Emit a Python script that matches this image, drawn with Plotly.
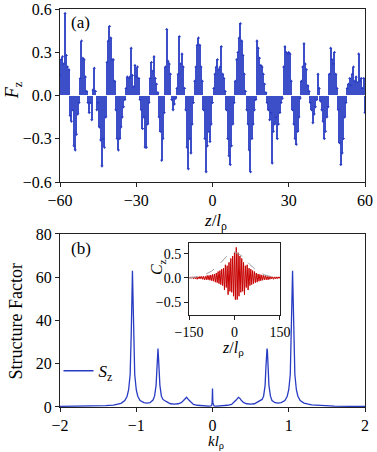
import numpy as np
import plotly.graph_objs as go

# panel (a): local magnetisation F_z, sampled every 0.5 l_rho from -60 to 60
fz_vals = [
    0.14, 0.25, 0.27, 0.22, 0.57, 0.28, 0.20, 0.18,
    -0.14, -0.18, -0.10, -0.35, -0.38, -0.27, -0.13, -0.05,
    0.12, 0.38, 0.26, 0.25, 0.13, 0.03,
    -0.05, -0.12, -0.05, -0.17,
    0.04, 0.19, 0.03,
    -0.10, -0.05, -0.22, -0.31, -0.49, -0.30, -0.36, -0.15,
    0.23, 0.38, 0.48, 0.40, 0.25, 0.25, 0.10,
    -0.10, -0.30, -0.38, -0.30, -0.22, -0.15, -0.08, -0.03,
    0.05, 0.13, 0.12, 0.13, 0.33, 0.14, 0.06, 0.21, 0.13, 0.20, 0.12,
    -0.03, -0.10, -0.23, -0.15, -0.36, -0.36, -0.20, -0.05,
    0.12, 0.23, 0.17, 0.27, 0.12, 0.08, 0.02,
    -0.15, -0.25, -0.45, -0.30, -0.12,
    0.20, 0.46, 0.24, 0.22, 0.15,
    -0.03, -0.10, -0.06, -0.02,
    0.05, 0.15, 0.41, 0.22, 0.29, 0.20, 0.05,
    -0.10, -0.36, -0.51, -0.30, -0.40, -0.20, -0.05,
    0.10, 0.20, 0.35, 0.40, 0.35, 0.20, 0.10,
    -0.10, -0.30, -0.53, -0.35, -0.25, -0.32, -0.20, -0.05,
    0.05, 0.15, 0.20, 0.25, 0.18, 0.20, 0.34, 0.15, 0.12, 0.03,
    -0.10, -0.30, -0.42, -0.48, -0.35, -0.20, -0.05,
    0.10, 0.25, 0.30, 0.40, 0.50, 0.38, 0.28, 0.15, 0.03,
    -0.10, -0.20, -0.38, -0.53, -0.30, -0.20, -0.10, -0.03,
    0.38, 0.33, 0.26, 0.21, 0.20, 0.15, 0.08, 0.02,
    -0.05, -0.10, -0.17, -0.12, -0.47, -0.25, -0.20, -0.15, -0.30, -0.20, -0.12, -0.05, -0.02,
    0.20, 0.34, 0.30, 0.29, 0.30, 0.29, 0.10,
    -0.10, -0.20, -0.30, -0.34, -0.25, -0.15, -0.02,
    0.10, 0.20, 0.36, 0.22, 0.18, 0.07, 0.03,
    -0.05, -0.10, -0.19, -0.13, -0.08, -0.03,
    0.15, 0.05,
    -0.04, -0.10, -0.18, -0.30, -0.25, -0.15, -0.08,
    0.15, 0.33, 0.25, 0.22, 0.30, 0.15, 0.05,
    -0.10, -0.33, -0.48, -0.40, -0.30, -0.15, -0.05,
    0.05, 0.08, 0.12, 0.07, 0.15, 0.20, 0.10, 0.13, 0.09, 0.29, 0.10, 0.12, 0.05, 0.12, -0.12,
]
fz_z = np.arange(len(fz_vals)) * 0.5 - 60

# panel (b): structure factor S_z(k)
k_vals = [
    -2.0, -1.8, -1.6, -1.5, -1.4, -1.3, -1.2, -1.15, -1.12, -1.1, -1.08, -1.065,
    -1.055, -1.05, -1.045, -1.035, -1.02, -1.0, -0.98, -0.95, -0.9, -0.86, -0.82,
    -0.78, -0.76, -0.74, -0.73, -0.72, -0.715, -0.71, -0.7, -0.69, -0.67, -0.65,
    -0.63, -0.61, -0.58, -0.55, -0.5, -0.45, -0.41, -0.38, -0.36, -0.34, -0.31,
    -0.28, -0.25, -0.2, -0.15, -0.1, -0.05, -0.02, -0.01, -0.005, 0.0,
    0.005, 0.01, 0.02, 0.05, 0.1, 0.15, 0.2, 0.25, 0.28, 0.31, 0.34, 0.36, 0.38,
    0.41, 0.45, 0.5, 0.55, 0.58, 0.61, 0.63, 0.65, 0.67, 0.69, 0.7, 0.71, 0.715,
    0.72, 0.73, 0.74, 0.76, 0.78, 0.82, 0.86, 0.9, 0.95, 0.98, 1.0, 1.02, 1.035,
    1.045, 1.05, 1.055, 1.065, 1.08, 1.1, 1.12, 1.15, 1.2, 1.3, 1.4, 1.5, 1.6,
    1.8, 2.0,
]
s_vals = [
    0.3, 0.3, 0.4, 0.5, 0.6, 0.9, 1.7, 3.0, 5.0, 8.0, 15.0, 35.0,
    55.0, 63.0, 55.0, 35.0, 15.0, 8.0, 5.0, 3.0, 2.0, 1.8, 2.0,
    3.2, 5.0, 10.0, 18.0, 26.0, 27.0, 24.0, 18.0, 10.0, 5.0, 3.5,
    3.0, 2.5, 2.0, 1.5, 1.3, 1.5, 2.0, 3.0, 4.0, 4.5, 3.2,
    2.0, 1.2, 0.8, 0.6, 0.5, 0.4, 0.5, 0.8, 2.0, 8.6,
    2.0, 0.8, 0.5, 0.4, 0.5, 0.6, 0.8, 1.2, 2.0, 3.2, 4.5, 4.0, 3.0,
    2.0, 1.5, 1.3, 1.5, 2.0, 2.6, 3.0, 3.5, 5.0, 10.0, 18.0, 24.0, 27.0,
    26.0, 18.0, 10.0, 5.0, 3.0, 2.0, 1.8, 2.0, 3.0, 5.0, 8.0, 15.0, 35.0,
    55.0, 63.0, 55.0, 35.0, 15.0, 8.0, 5.0, 3.0, 1.8, 1.0, 0.7, 0.5, 0.4,
    0.3, 0.3,
]

# inset: correlation C_z, every 3 l_rho from -150 to 150
cz_vals = [
    0.01, -0.01, 0.02, -0.01, 0.02, -0.02, 0.02, -0.02, 0.02, -0.03, 0.02,
    -0.02, 0.03, -0.02, 0.03, -0.03, 0.03, -0.04, 0.03, -0.04, 0.05, -0.04,
    0.05, -0.05, 0.06, -0.06, 0.07, -0.07, 0.08, -0.09, 0.10, -0.10, 0.13,
    -0.12, 0.15, -0.14, 0.18, -0.16, 0.20, -0.25, 0.27, -0.20, 0.25, -0.35,
    0.32, -0.28, 0.40, -0.30, 0.45, -0.38, 0.52, -0.45,
    0.63,
    -0.45, 0.52, -0.38, 0.45, -0.30, 0.40, -0.28, 0.32, -0.35, 0.25, -0.20,
    0.27, -0.25, 0.20, -0.16, 0.18, -0.14, 0.15, -0.12, 0.13, -0.10, 0.10,
    -0.09, 0.08, -0.07, 0.07, -0.06, 0.06, -0.05, 0.05, -0.04, 0.05, -0.04,
    0.03, -0.04, 0.03, -0.03, 0.03, -0.02, 0.02, -0.03, 0.02, -0.02, 0.02,
    -0.02, 0.02, -0.01, 0.02, -0.01, 0.01,
]
cz_z = np.arange(len(cz_vals)) * 3 - 150

# dashed envelope of the inset
env_z = [-150, -125, -100, -75, -50, -25, 0, 25, 50, 75, 100, 125, 150]
env_vals = [0.0, 0.02, 0.06, 0.14, 0.28, 0.45, 0.54, 0.45, 0.28, 0.14, 0.06, 0.02, 0.0]

BLUE = 'rgb(40,60,195)'
RED = 'rgb(200,0,0)'
FONT = 'Liberation Serif, Times New Roman, serif'

fig = go.Figure()

# stems of F_z drawn as thin bars, arrow heads as markers
fig.add_trace(go.Bar(x=fz_z, y=fz_vals, width=0.5,
                     marker=dict(color=BLUE, line=dict(width=0)),
                     opacity=0.9, xaxis='x', yaxis='y', showlegend=False))
fig.add_trace(go.Scatter(x=fz_z, y=fz_vals, mode='markers',
                         marker=dict(color=BLUE, size=3,
                                     symbol=['triangle-up' if v >= 0 else 'triangle-down'
                                             for v in fz_vals]),
                         xaxis='x', yaxis='y', showlegend=False))

# structure factor
fig.add_trace(go.Scatter(x=k_vals, y=s_vals, mode='lines',
                         line=dict(color=BLUE, width=1.3),
                         name='<i>S</i><sub>z</sub>',
                         xaxis='x2', yaxis='y2'))

# inset
fig.add_trace(go.Scatter(x=cz_z, y=cz_vals, mode='lines',
                         line=dict(color=RED, width=1),
                         xaxis='x3', yaxis='y3', showlegend=False))
fig.add_trace(go.Scatter(x=env_z, y=env_vals, mode='lines',
                         line=dict(color='rgb(160,160,160)', width=1, dash='dash'),
                         xaxis='x3', yaxis='y3', showlegend=False))

axis_common = dict(showline=True, linecolor='#222', linewidth=1, mirror=True,
                   ticks='outside', ticklen=4, tickcolor='#222',
                   showgrid=False, zeroline=False, automargin=False,
                   tickfont=dict(family=FONT, size=16, color='black'))
inset_ticks = dict(family=FONT, size=14, color='black')


def label(text, x, y, size=17, angle=0):
    # axis titles placed by hand so they sit where the reference has them
    return dict(text=text, x=x, y=y, xref='paper', yref='paper',
                xanchor='center', yanchor='middle', showarrow=False,
                textangle=angle, font=dict(family=FONT, size=size))


fig.update_layout(
    width=377, height=452,
    margin=dict(l=60, r=12, t=9, b=45),
    plot_bgcolor='white', paper_bgcolor='white',
    bargap=0,
    font=dict(family=FONT, color='black'),
    xaxis=dict(axis_common, domain=[0, 1], range=[-60, 60],
               tickvals=[-60, -30, 0, 30, 60], anchor='y'),
    yaxis=dict(axis_common, domain=[0.5653, 1.0], range=[-0.6, 0.6],
               tickvals=[-0.6, -0.3, 0, 0.3, 0.6], tickformat='.1f', anchor='x'),
    xaxis2=dict(axis_common, domain=[0, 1], range=[-2, 2],
                tickvals=[-2, -1, 0, 1, 2], anchor='y2'),
    yaxis2=dict(axis_common, domain=[0, 0.4347], range=[0, 80],
                tickvals=[0, 20, 40, 60, 80], anchor='x2'),
    xaxis3=dict(axis_common, domain=[0.423, 0.721], range=[-150, 150],
                tickvals=[-150, 0, 150], anchor='y3', tickfont=inset_ticks),
    yaxis3=dict(axis_common, domain=[0.231, 0.412], range=[-0.77, 0.72],
                tickvals=[-0.5, 0, 0.5], tickformat='.1f', anchor='x3',
                tickfont=inset_ticks),
    legend=dict(x=-0.005, y=0.09, xanchor='left', yanchor='middle',
                bgcolor='rgba(0,0,0,0)', font=dict(family=FONT, size=17)),
    annotations=[
        dict(text='(a)', x=0.03, y=0.995, xref='paper', yref='paper',
             xanchor='left', yanchor='top', showarrow=False,
             font=dict(family=FONT, size=17)),
        dict(text='(b)', x=0.03, y=0.428, xref='paper', yref='paper',
             xanchor='left', yanchor='top', showarrow=False,
             font=dict(family=FONT, size=17)),
        label('<i>z</i>/<i>l</i><sub>ρ</sub>', 0.51, 0.466),
        label('<i>kl</i><sub>ρ</sub>', 0.51, -0.088, size=15),
        label('<i>F</i><sub>z</sub>', -0.152, 0.795, size=18, angle=-90),
        label('Structure Factor', -0.143, 0.216, size=18, angle=-90),
        label('<i>C</i><sub>z</sub>', 0.322, 0.352, size=16, angle=-90),
        label('<i>z</i>/<i>l</i><sub>ρ</sub>', 0.566, 0.148, size=16),
    ],
    shapes=[
        # white gap along F_z = 0, as in the stem baseline
        dict(type='line', xref='x', yref='y', x0=-60, x1=60, y0=0, y1=0,
             line=dict(color='white', width=1)),
    ],
)

# drop the default 8px body margin so the figure fills the window
fig.write_html("out.html", config={'displayModeBar': False},
               post_script="document.body.style.margin = '0px';")
